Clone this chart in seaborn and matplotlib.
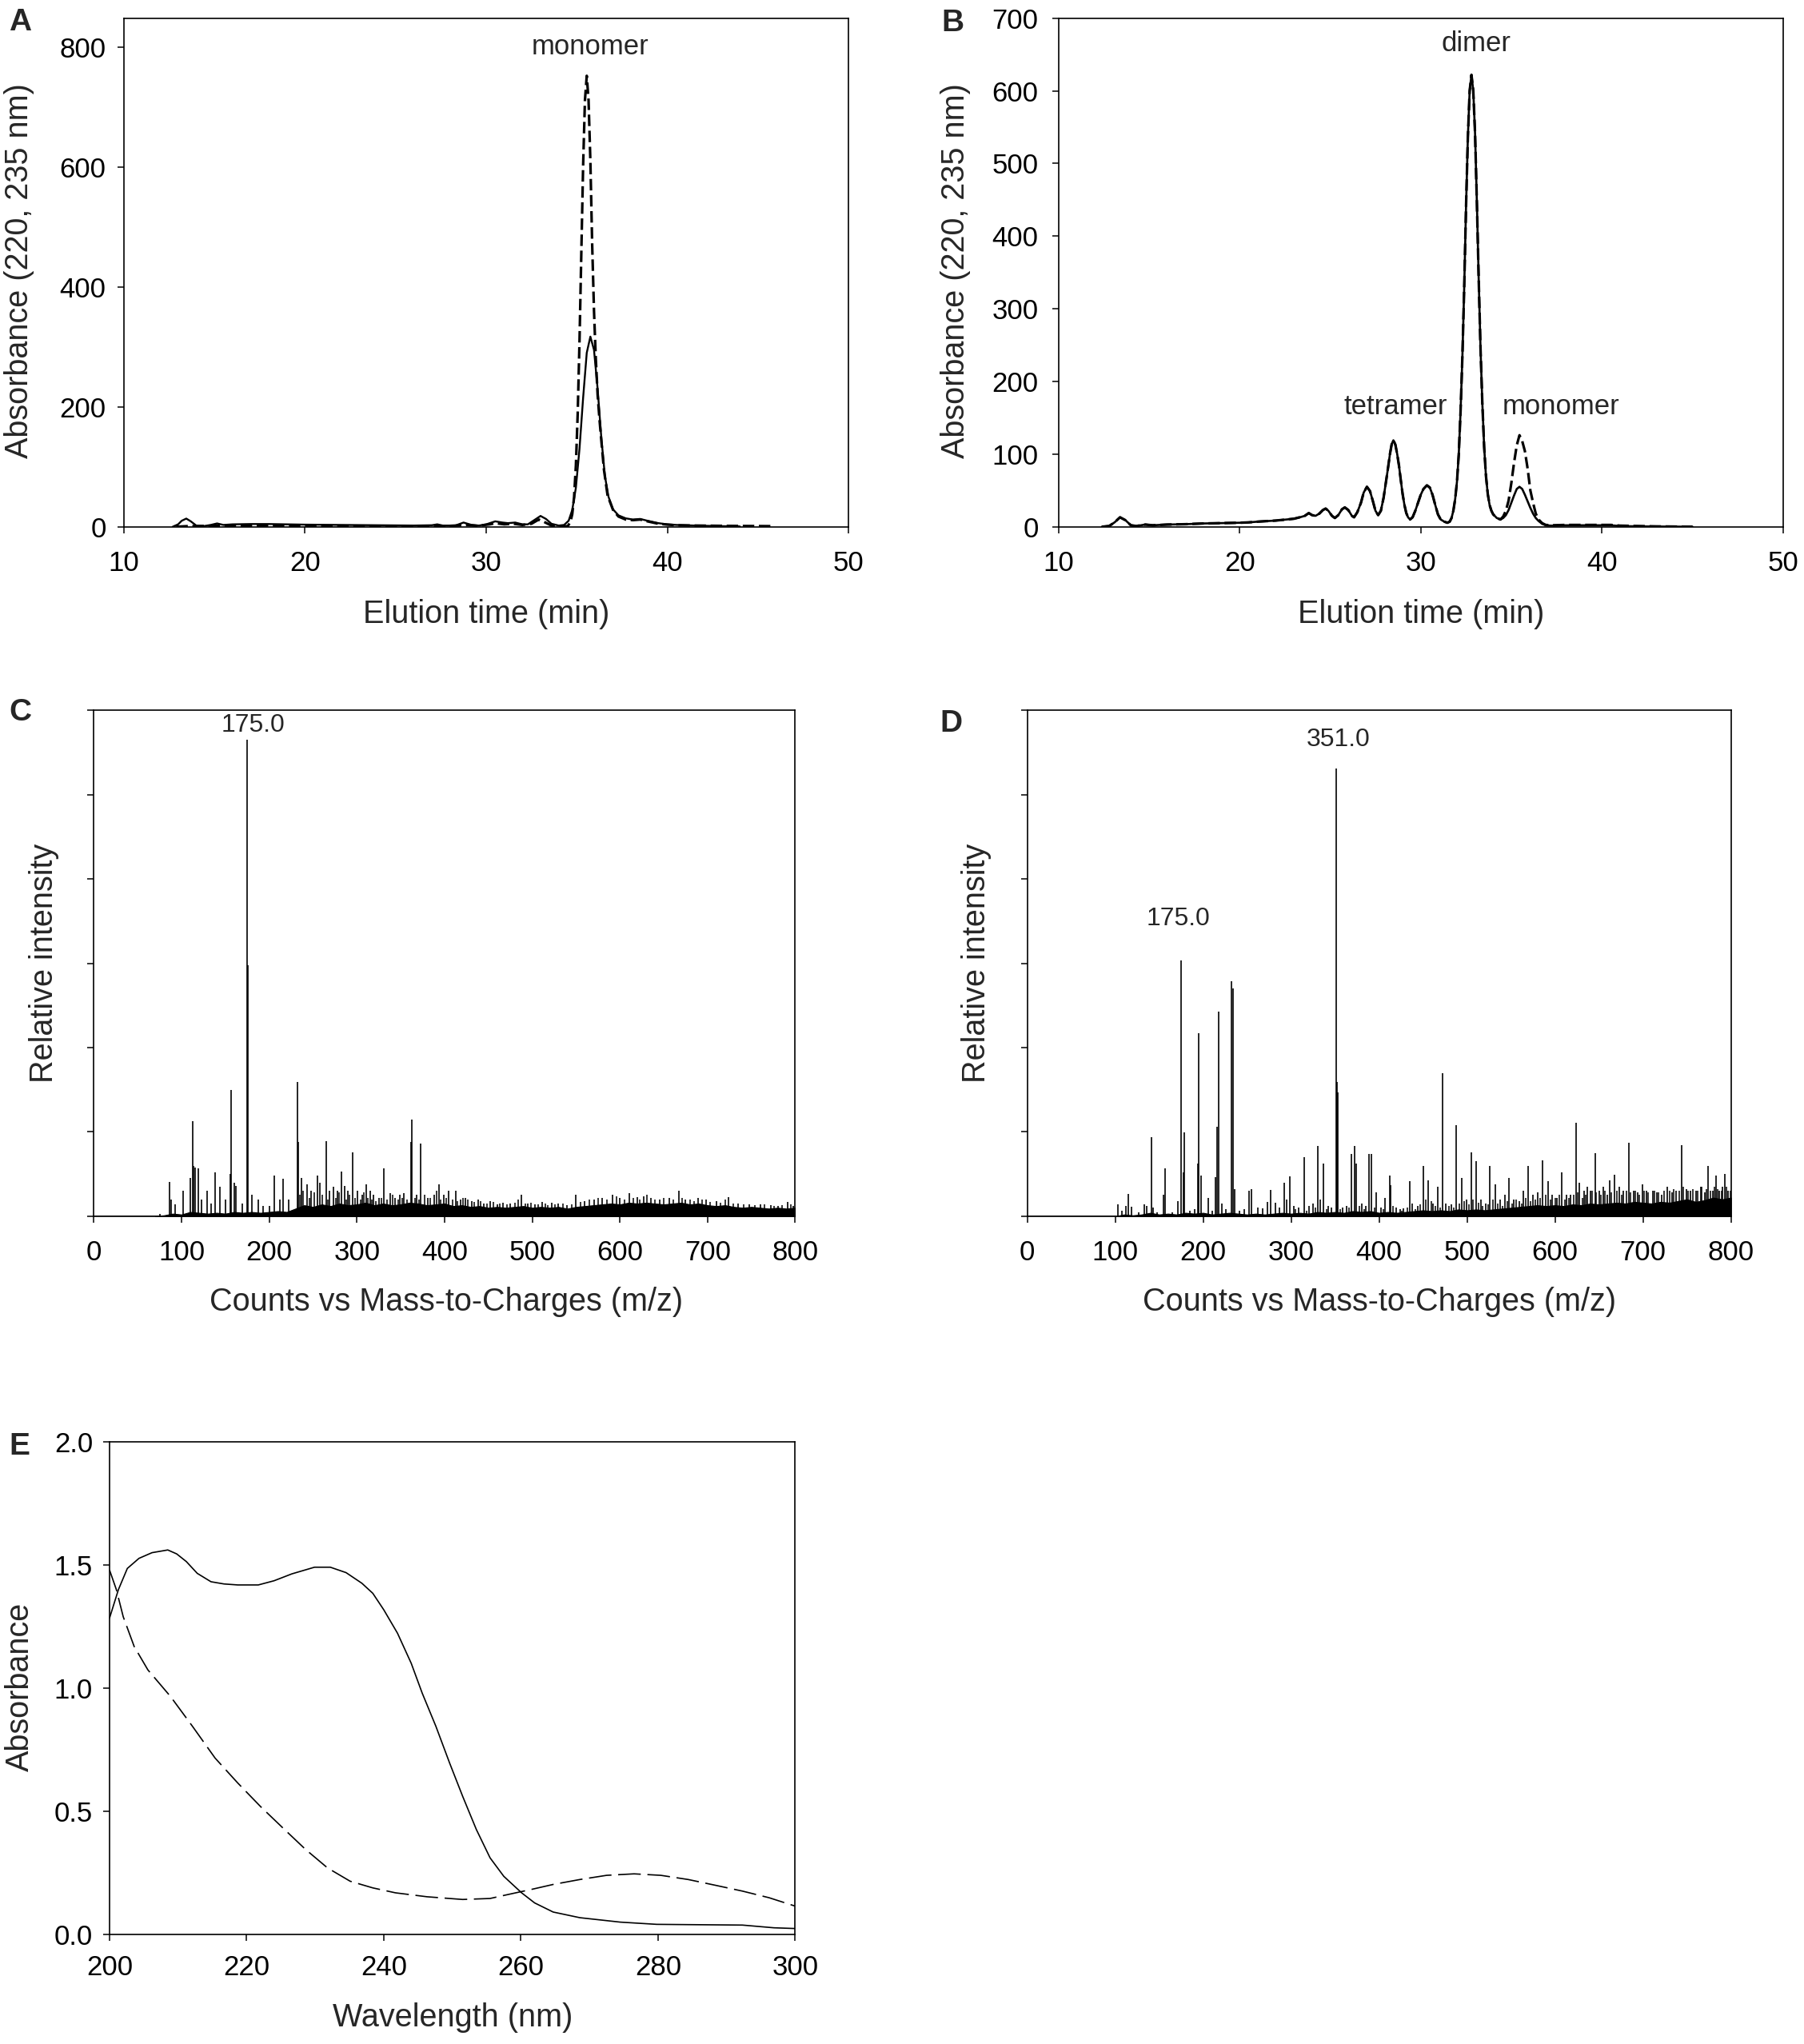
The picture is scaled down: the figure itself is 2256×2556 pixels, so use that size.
import numpy as np
import pandas as pd
import matplotlib
matplotlib.use("Agg")
import matplotlib.pyplot as plt
import seaborn as sns

# ---------------- data: panel A (elution profiles) ----------------
A_t_solid = [12.7, 13.0, 13.2, 13.45, 13.7, 14.0, 14.4, 14.8, 15.15, 15.5, 16, 17, 18, 19, 20, 22, 24, 26, 27,
             27.3, 27.6, 28.3, 28.75, 29.2, 29.6, 30.0, 30.5, 30.9, 31.2, 31.6, 32.0, 32.3, 32.7, 33.0, 33.3,
             33.6, 34.0, 34.3, 34.55, 34.75, 34.95, 35.15, 35.35, 35.55, 35.75, 35.95, 36.15, 36.35, 36.55,
             36.75, 37.0, 37.3, 37.7, 38.1, 38.5, 38.9, 39.5, 40.0, 40.5, 41.5, 43, 44]
A_solid = [0, 4, 10, 13.6, 9, 2, 1, 3, 5.5, 3, 4, 4.5, 4.5, 4, 3.5, 3, 2.5, 2, 2.5,
           4, 2, 2, 7, 3, 2, 4, 9, 7, 6, 7, 4, 4, 12, 18, 13,
           5, 2, 3, 10, 28, 65, 130, 215, 290, 317, 295, 230, 150, 85,
           50, 29, 19, 14, 12, 13, 10, 6, 4, 3, 2, 1, 0.5]
A_t_dash = [12.9, 13.5, 15, 18, 22, 26, 28, 29, 29.5, 30.2, 30.5, 31, 31.5, 32, 32.5, 32.9, 33.2, 33.6, 34.0,
            34.5, 34.65, 34.75, 34.85, 34.95, 35.05, 35.15, 35.25, 35.35, 35.45, 35.55, 35.65, 35.75, 35.85,
            35.95, 36.05, 36.15, 36.25, 36.35, 36.5, 36.7, 37.0, 37.3, 37.7, 38.1, 38.5, 38.9, 39.5, 40.0,
            40.5, 41.5, 43, 45.7]
A_dash = [0, 1, 1.5, 2, 1.5, 1, 1.5, 3, 1.5, 4, 6, 4, 5, 3, 5, 12, 8, 2, 0.5,
          1, 8, 21, 49, 102, 188, 309, 456, 602, 711, 752, 711, 610, 470,
          360, 280, 220, 180, 145, 95, 52, 28, 17, 12, 11, 12, 9, 5, 3.5,
          2.5, 2, 1.5, 1]

# ---------------- data: panel B ----------------
B_t = [12.4, 12.8, 13.1, 13.4, 13.7, 14.0, 14.3, 14.8, 15.2, 16, 17, 18, 19, 20, 20.5, 21, 22, 23, 23.4, 23.6,
       23.82, 24.0, 24.19, 24.4, 24.6, 24.75, 24.9, 25.1, 25.26, 25.45, 25.65, 25.81, 26.0, 26.2, 26.32,
       26.5, 26.7, 26.85, 27.03, 27.2, 27.35, 27.5, 27.65, 27.8, 27.95, 28.1, 28.2, 28.3, 28.4, 28.49,
       28.6, 28.7, 28.8, 28.9, 29.0, 29.1, 29.2, 29.3, 29.41, 29.55, 29.7, 29.85, 30.0, 30.15, 30.34,
       30.5, 30.65, 30.8, 30.95, 31.1, 31.3, 31.47, 31.6, 31.7, 31.8, 31.9, 32.0, 32.1, 32.2, 32.3, 32.4,
       32.5, 32.6, 32.7, 32.8, 32.9, 33.0, 33.1, 33.2, 33.3, 33.4, 33.5, 33.6, 33.7, 33.8, 33.9, 34.0,
       34.2, 34.4, 34.55, 34.7, 34.85, 35.0, 35.15, 35.3, 35.45, 35.6, 35.75, 35.9, 36.05, 36.2, 36.35,
       36.5, 36.7, 36.9, 37.2, 38, 39, 40, 40.5, 41, 42, 43, 45]
B_solid = [0, 1, 6, 13, 9, 2, 1, 3, 2, 3, 3.5, 4.5, 5, 5.5, 6, 7, 8.5, 11, 13.5, 15,
           18.8, 16, 15, 18, 23, 25, 22, 15, 12, 16, 24, 26.6, 23, 15, 13,
           20, 33, 47, 55, 49, 36, 22, 16, 22, 40, 65, 82, 100, 114, 119,
           113, 100, 84, 64, 45, 30, 19, 13, 10, 13, 22, 33, 44, 52, 57,
           54, 44, 30, 17, 10, 7, 5.5, 7, 12, 22, 38, 62, 100, 160, 235, 330,
           440, 535, 600, 622, 600, 540, 445, 340, 245, 170, 110, 70, 45, 30, 22, 17,
           12, 10, 12, 16, 23, 33, 43, 52, 55, 52, 44, 35, 26, 18, 12,
           8, 4, 2, 1.5, 2, 2, 2, 2, 1, 0.5, 0.3, 0]
B_dash = [0, 1, 6, 13, 9, 2, 1, 3, 2, 3, 3.5, 4.5, 5, 5.5, 6, 7, 8.5, 11, 13.5, 15,
          18.8, 16, 15, 18, 23, 25, 22, 15, 12, 16, 24, 26.6, 23, 15, 13,
          20, 33, 47, 55, 49, 36, 22, 16, 22, 40, 65, 82, 100, 114, 119,
          113, 100, 84, 64, 45, 30, 19, 13, 10, 13, 22, 33, 44, 52, 57,
          54, 44, 30, 17, 10, 7, 5.5, 7, 12, 22, 38, 62, 100, 160, 235, 330,
          440, 535, 600, 622, 600, 540, 445, 340, 245, 170, 110, 70, 45, 30, 22, 17,
          12, 10, 14, 22, 36, 60, 88, 112, 126, 118, 104, 80, 50, 33, 18,
          10, 5, 2.5, 2, 2.5, 2.5, 2.5, 2.5, 1.5, 1, 0.5, 0]

# ---------------- data: panel C (MS, monomer) ----------------
C_mz = [75, 86, 88, 93, 102, 110.5, 113, 114, 116, 119, 123, 129, 134, 138, 144, 150, 156, 157, 160, 162,
        169, 175, 176, 180, 188, 193, 200, 206, 212, 216, 222, 232, 233.5, 237, 243, 248, 255, 258, 265,
        269, 273, 278, 282.5, 286, 290, 295, 301, 306, 310.5, 315, 319, 325, 331, 338, 344, 349, 354,
        361.5, 363, 368, 373, 381, 388, 393.7, 399, 405, 412.6, 418, 424, 431, 438, 445, 452, 460, 467,
        475, 488, 495, 503, 511, 522, 530, 540, 550, 560, 571, 580, 592, 600, 610.5, 620, 627, 635, 645,
        656, 667, 675, 689.5, 698, 710, 724, 735, 748, 760, 772, 780, 791, 798]
C_int = [0.03, 0.41, 0.2, 0.14, 0.30, 0.45, 1.13, 0.6, 0.58, 0.57, 0.2, 0.30, 0.15, 0.52, 0.35, 0.2, 0.5, 1.50, 0.4, 0.36,
         0.15, 5.65, 2.98, 0.25, 0.2, 0.12, 0.12, 0.48, 0.2, 0.44, 0.2, 1.59, 0.88, 0.45, 0.38, 0.3, 0.48, 0.4, 0.89,
         0.3, 0.35, 0.3, 0.53, 0.36, 0.3, 0.76, 0.3, 0.25, 0.38, 0.3, 0.25, 0.22, 0.57, 0.27, 0.22, 0.25, 0.27,
         0.88, 1.15, 0.25, 0.86, 0.22, 0.25, 0.38, 0.25, 0.3, 0.3, 0.2, 0.22, 0.18, 0.2, 0.15, 0.18, 0.14, 0.16,
         0.15, 0.25, 0.15, 0.14, 0.17, 0.16, 0.15, 0.13, 0.25, 0.18, 0.2, 0.22, 0.25, 0.22, 0.27, 0.23, 0.24, 0.22, 0.2,
         0.22, 0.3, 0.2, 0.22, 0.2, 0.18, 0.23, 0.15, 0.14, 0.14, 0.13, 0.12, 0.17, 0.12]
C_minor_mz = [235, 239, 246, 251, 261, 267, 276, 280, 288, 292, 298, 304, 308, 313, 317, 322, 328, 334, 341,
              347, 352, 357, 366, 371, 377, 384, 391, 396, 402, 409, 415, 421, 427, 434, 441, 448, 456, 463,
              471, 480, 484, 492, 499, 507, 515, 518, 526, 535, 545, 555, 565, 575, 585, 596, 605, 615, 623,
              631, 640, 650, 661, 671, 680, 685, 694, 703, 715, 720, 729, 741, 754, 765, 776, 785, 795]
C_minor_int = [0.25, 0.3, 0.22, 0.28, 0.25, 0.2, 0.22, 0.28, 0.2, 0.25, 0.22, 0.2, 0.28, 0.22, 0.2, 0.18, 0.22,
               0.2, 0.25, 0.2, 0.22, 0.2, 0.22, 0.2, 0.25, 0.22, 0.3, 0.2, 0.22, 0.2, 0.18, 0.22, 0.2, 0.17,
               0.18, 0.15, 0.17, 0.15, 0.14, 0.16, 0.2, 0.15, 0.16, 0.14, 0.15, 0.13, 0.14, 0.15, 0.14, 0.17,
               0.2, 0.22, 0.2, 0.24, 0.2, 0.22, 0.2, 0.25, 0.2, 0.22, 0.2, 0.22, 0.2, 0.18, 0.2, 0.17, 0.16,
               0.2, 0.15, 0.14, 0.13, 0.14, 0.12, 0.13, 0.14]
C_band_mz = list(range(70, 801, 10))
C_band = [0, 0.01, 0.03, 0.02, 0.05, 0.04, 0.03, 0.04, 0.03, 0.05, 0.04, 0.05, 0.04, 0.05, 0.06, 0.05, 0.09,
          0.13, 0.11, 0.14, 0.12, 0.15, 0.13, 0.14, 0.16, 0.13, 0.15, 0.13, 0.14, 0.16, 0.15, 0.13, 0.14, 0.15,
          0.12, 0.13, 0.11, 0.12, 0.1, 0.11, 0.1, 0.11, 0.12, 0.1, 0.11, 0.1, 0.11, 0.09, 0.11, 0.12, 0.13, 0.14,
          0.15, 0.14, 0.16, 0.15, 0.16, 0.15, 0.14, 0.15, 0.16, 0.14, 0.15, 0.13, 0.12, 0.13, 0.11, 0.1, 0.11,
          0.1, 0.09, 0.1, 0.09, 0.1]

# ---------------- data: panel D (MS, dimer) ----------------
D_mz = [103, 108, 112, 115, 119, 127, 133, 136, 141, 143, 148, 154.5, 157, 165, 171, 175, 177.5, 179, 185, 190,
        194, 195, 198, 206, 210, 214, 216, 217.5, 221, 226, 232.6, 234, 236, 241, 247, 252.6, 255, 262, 268,
        273.5, 277, 282, 287, 292, 295, 298.5, 303, 309, 314.7, 320, 325, 330, 333, 336.6, 342, 346, 351, 352,
        353, 358.6, 363, 368.5, 372, 374, 380, 385, 389, 391, 397, 402, 407, 412, 413, 419, 424, 428, 435,
        438, 444, 450, 456, 461, 466.6, 472.3, 476, 482, 488, 494, 499, 504.7, 510, 516, 521, 526, 532, 538,
        543, 548, 553, 559, 564, 569, 575, 580, 585.6, 592, 597, 602, 608, 613, 618, 624, 628, 633, 637, 640,
        645.6, 650, 655, 659, 662, 668, 673, 678, 684, 689, 694, 699, 704, 711, 716, 721, 727.6, 733, 738,
        744, 749, 754, 760, 765.6, 770, 774, 779, 783, 787, 790, 793, 797]
D_int = [0.14, 0.06, 0.12, 0.26, 0.11, 0.05, 0.14, 0.12, 0.94, 0.1, 0.05, 0.25, 0.57, 0.05, 0.18, 3.03, 0.52, 0.99, 0.06, 0.08,
         0.62, 2.17, 0.48, 0.22, 0.06, 0.46, 1.06, 2.43, 0.15, 0.08, 2.79, 2.7, 0.32, 0.06, 0.08, 0.3, 0.32, 0.1, 0.09,
         0.17, 0.31, 0.16, 0.1, 0.4, 0.2, 0.47, 0.12, 0.1, 0.70, 0.12, 0.15, 0.83, 0.2, 0.62, 0.12, 0.1, 5.31, 1.59,
         1.47, 0.1, 0.12, 0.74, 0.83, 0.62, 0.15, 0.12, 0.74, 0.74, 0.28, 0.1, 0.22, 0.48, 0.37, 0.1, 0.08, 0.09, 0.42,
         0.15, 0.12, 0.60, 0.43, 0.15, 0.35, 1.70, 0.15, 0.14, 1.08, 0.45, 0.2, 0.76, 0.65, 0.2, 0.15, 0.60, 0.38, 0.2,
         0.25, 0.45, 0.2, 0.18, 0.3, 0.6, 0.25, 0.28, 0.66, 0.42, 0.25, 0.22, 0.52, 0.25, 0.25, 1.11, 0.4, 0.3, 0.35, 0.3,
         0.75, 0.3, 0.35, 0.25, 0.43, 0.49, 0.35, 0.3, 0.87, 0.3, 0.28, 0.38, 0.3, 0.30, 0.28, 0.25, 0.35, 0.28, 0.3,
         0.84, 0.32, 0.3, 0.3, 0.35, 0.28, 0.6, 0.3, 0.48, 0.3, 0.35, 0.5, 0.3]
D_minor_mz = [305, 318, 328, 340, 356, 366, 378, 383, 395, 405, 416, 426, 432, 441, 447, 453, 459, 464, 469,
              479, 485, 491, 497, 502, 507, 513, 518, 524, 529, 535, 540, 546, 551, 556, 562, 567, 572, 578,
              583, 589, 595, 600, 605, 611, 616, 621, 626, 631, 635, 642, 647, 652, 657, 664, 670, 676, 681,
              686, 691, 696, 701, 706, 713, 718, 724, 730, 735, 741, 746, 751, 757, 762, 767, 772, 777, 781,
              785, 789, 795, 799]
D_minor_int = [0.08, 0.06, 0.1, 0.08, 0.08, 0.1, 0.12, 0.08, 0.1, 0.08, 0.12, 0.06, 0.1, 0.08, 0.14, 0.2, 0.18,
               0.12, 0.1, 0.12, 0.1, 0.15, 0.18, 0.14, 0.2, 0.16, 0.12, 0.14, 0.2, 0.15, 0.12, 0.18, 0.15, 0.2,
               0.15, 0.22, 0.18, 0.2, 0.22, 0.25, 0.2, 0.22, 0.25, 0.2, 0.22, 0.25, 0.28, 0.22, 0.25, 0.3, 0.28,
               0.25, 0.3, 0.28, 0.3, 0.25, 0.3, 0.28, 0.3, 0.25, 0.3, 0.28, 0.3, 0.28, 0.3, 0.3, 0.32, 0.3, 0.35,
               0.3, 0.32, 0.3, 0.35, 0.32, 0.3, 0.35, 0.32, 0.3, 0.35, 0.3]
D_band_mz = list(range(100, 801, 10))
D_band = [0, 0.02, 0.01, 0.02, 0.04, 0.02, 0.03, 0.02, 0.04, 0.03, 0.04, 0.02, 0.03, 0.04, 0.03, 0.02, 0.03,
          0.02, 0.03, 0.04, 0.03, 0.04, 0.03, 0.05, 0.04, 0.05, 0.04, 0.06, 0.05, 0.06, 0.04, 0.05, 0.04, 0.05,
          0.06, 0.07, 0.06, 0.07, 0.06, 0.08, 0.07, 0.08, 0.07, 0.08, 0.09, 0.1, 0.11, 0.12, 0.13, 0.12, 0.13,
          0.12, 0.14, 0.13, 0.15, 0.14, 0.15, 0.16, 0.15, 0.17, 0.16, 0.15, 0.17, 0.16, 0.18, 0.2, 0.17, 0.19,
          0.22, 0.2, 0.22]

# ---------------- data: panel E (UV spectra) ----------------
E_wl_solid = [200, 201.3, 202.6, 204.3, 206.2, 208.5, 209.8, 211.2, 212.8, 214.8, 216.7, 218.7, 221.7, 224,
              226.6, 229.9, 232.2, 234.5, 236.8, 238.4, 240, 242, 244, 245.6, 247.6, 249.6, 251.5, 253.5,
              255.5, 257.5, 260.1, 262, 264.7, 268.6, 274.5, 279.8, 292.3, 296.9, 300]
E_solid = [1.284, 1.40, 1.486, 1.527, 1.55, 1.561, 1.545, 1.514, 1.466, 1.432, 1.423, 1.419, 1.419, 1.436,
           1.464, 1.491, 1.491, 1.469, 1.426, 1.385, 1.318, 1.223, 1.101, 0.98, 0.845, 0.696, 0.561, 0.426,
           0.311, 0.236, 0.169, 0.128, 0.091, 0.068, 0.05, 0.041, 0.038, 0.027, 0.024]
E_wl_dash = [200, 201, 202, 203.6, 205.6, 208.9, 212.1, 215.4, 218.7, 222, 225.3, 228.6, 231.8, 235.1, 238.4,
             241.7, 246.3, 251.5, 255.5, 258.1, 261.4, 264.7, 268.6, 272.5, 276.5, 280.4, 284.4, 288.3, 292.3,
             296.2, 300]
E_dash = [1.48, 1.40, 1.29, 1.169, 1.074, 0.966, 0.845, 0.716, 0.615, 0.52, 0.432, 0.345, 0.27, 0.216, 0.189,
          0.169, 0.153, 0.142, 0.146, 0.162, 0.182, 0.203, 0.223, 0.24, 0.246, 0.24, 0.223, 0.2, 0.176,
          0.149, 0.115]

# ---------------- style ----------------
sns.set_style("ticks")
plt.rcParams['font.family'] = ['Liberation Sans', 'DejaVu Sans']
plt.rcParams['axes.linewidth'] = 1.2
plt.rcParams['xtick.major.width'] = 1.1
plt.rcParams['ytick.major.width'] = 1.1
plt.rcParams['xtick.major.size'] = 6
plt.rcParams['ytick.major.size'] = 6
plt.rcParams['xtick.direction'] = 'out'
plt.rcParams['ytick.direction'] = 'out'
plt.rcParams['axes.edgecolor'] = 'black'
plt.rcParams['xtick.color'] = 'black'
plt.rcParams['ytick.color'] = 'black'

TICK = 25
LAB = 28.5

fig = plt.figure(figsize=(22.56, 25.56), dpi=100)
fig.patch.set_facecolor('white')

axA = fig.add_axes([0.0686, 0.7423, 0.4018, 0.2488])
axB = fig.add_axes([0.5867, 0.7423, 0.4017, 0.2488])
axC = fig.add_axes([0.0520, 0.4050, 0.3888, 0.2474])
axD = fig.add_axes([0.5694, 0.4050, 0.3901, 0.2474])
axE = fig.add_axes([0.0607, 0.0536, 0.3801, 0.2410])


def style_axis(ax, xpad, ypad):
    for s in ax.spines.values():
        s.set_visible(True)
        s.set_color('black')
        s.set_linewidth(1.2)
    ax.tick_params(axis='x', labelsize=TICK, pad=xpad, top=False)
    ax.tick_params(axis='y', labelsize=TICK, pad=ypad, right=False)
    ax.set_facecolor('white')


# ---- Panel A ----
sns.lineplot(x=A_t_solid, y=A_solid, ax=axA, color='black', linewidth=1.7, sort=False)
sns.lineplot(x=A_t_dash, y=A_dash, ax=axA, color='black', linewidth=2.3, sort=False,
             linestyle=(0, (4.5, 1.8)))
axA.set_xlim(10, 50)
axA.set_ylim(0, 848)
axA.set_xticks([10, 20, 30, 40, 50])
axA.set_yticks([0, 200, 400, 600, 800])
style_axis(axA, 15, 10)
axA.set_xlabel('Elution time (min)', fontsize=LAB)
axA.set_ylabel('Absorbance (220, 235 nm)', fontsize=LAB)
axA.xaxis.set_label_coords(0.5, -0.172)
axA.yaxis.set_label_coords(-0.144, 0.503)
axA.xaxis.label.set_va('center')
axA.yaxis.label.set_va('center')
axA.text(35.75, 800, 'monomer', fontsize=25, ha='center', va='center')

# ---- Panel B ----
sns.lineplot(x=B_t, y=B_solid, ax=axB, color='black', linewidth=1.9, sort=False)
sns.lineplot(x=B_t, y=B_dash, ax=axB, color='black', linewidth=2.3, sort=False,
             linestyle=(0, (4.5, 1.8)))
axB.set_xlim(10, 50)
axB.set_ylim(0, 700)
axB.set_xticks([10, 20, 30, 40, 50])
axB.set_yticks(list(range(0, 701, 100)))
style_axis(axB, 15, 12)
axB.set_xlabel('Elution time (min)', fontsize=LAB)
axB.set_ylabel('Absorbance (220, 235 nm)', fontsize=LAB)
axB.xaxis.set_label_coords(0.5, -0.172)
axB.yaxis.set_label_coords(-0.142, 0.503)
axB.xaxis.label.set_va('center')
axB.yaxis.label.set_va('center')
axB.text(33.05, 665, 'dimer', fontsize=25, ha='center', va='center')
axB.text(28.6, 165, 'tetramer', fontsize=25, ha='center', va='center')
axB.text(37.73, 165, 'monomer', fontsize=25, ha='center', va='center')


# ---- Panels C & D (mass spectra) ----
def draw_ms(ax, band_mz, band, mz, inten, mmz, mint, start):
    ax.fill_between(band_mz, 0, band, color='black', linewidth=0.8, edgecolor='black')
    ax.vlines(mmz, 0, mint, color='black', linewidth=1.1)
    ax.vlines(mz, 0, inten, color='black', linewidth=1.2)
    sns.lineplot(x=[0, start], y=[0, 0], ax=ax, color='black', linewidth=1.2)
    ax.set_xlim(0, 800)
    ax.set_ylim(0, 6)
    ax.set_xticks(list(range(0, 801, 100)))
    ax.set_yticks([0, 1, 2, 3, 4, 5, 6])
    ax.set_yticklabels([])
    style_axis(ax, 15, 4)
    ax.set_xlabel('Counts vs Mass-to-Charges (m/z)', fontsize=LAB)
    ax.set_ylabel('Relative intensity', fontsize=LAB)
    ax.xaxis.label.set_va('center')
    ax.yaxis.label.set_va('center')


draw_ms(axC, C_band_mz, C_band, C_mz, C_int, C_minor_mz, C_minor_int, 75)
axC.xaxis.set_label_coords(0.502, -0.170)
axC.yaxis.set_label_coords(-0.0706, 0.5)
axC.text(181.5, 5.82, '175.0', fontsize=23, ha='center', va='center')

draw_ms(axD, D_band_mz, D_band, D_mz, D_int, D_minor_mz, D_minor_int, 100)
axD.xaxis.set_label_coords(0.5, -0.170)
axD.yaxis.set_label_coords(-0.0722, 0.5)
axD.text(354, 5.65, '351.0', fontsize=23, ha='center', va='center')
axD.text(172, 3.53, '175.0', fontsize=23, ha='center', va='center')

# ---- Panel E ----
sns.lineplot(x=E_wl_solid, y=E_solid, ax=axE, color='black', linewidth=1.2, sort=False)
sns.lineplot(x=E_wl_dash, y=E_dash, ax=axE, color='black', linewidth=1.2, sort=False,
             linestyle=(0, (17, 5)))
axE.set_xlim(200, 300)
axE.set_ylim(0, 2.0)
axE.set_xticks(list(range(200, 301, 20)))
axE.set_yticks([0.0, 0.5, 1.0, 1.5, 2.0])
axE.set_yticklabels(['0.0', '0.5', '1.0', '1.5', '2.0'])
style_axis(axE, 12, 9)
axE.set_xlabel('Wavelength (nm)', fontsize=LAB)
axE.set_ylabel('Absorbance', fontsize=LAB)
axE.xaxis.set_label_coords(0.5, -0.169)
axE.yaxis.set_label_coords(-0.131, 0.503)
axE.xaxis.label.set_va('center')
axE.yaxis.label.set_va('center')

# ---- panel letters ----
for lab, x, y in [('A', 0.0049, 0.9961), ('B', 0.522, 0.9957), ('C', 0.0049, 0.6585),
                  ('D', 0.521, 0.653), ('E', 0.0049, 0.2993)]:
    fig.text(x, y, lab, fontsize=28, fontweight='bold', ha='left', va='top')

fig.savefig('out.png', dpi=100, facecolor='white')
